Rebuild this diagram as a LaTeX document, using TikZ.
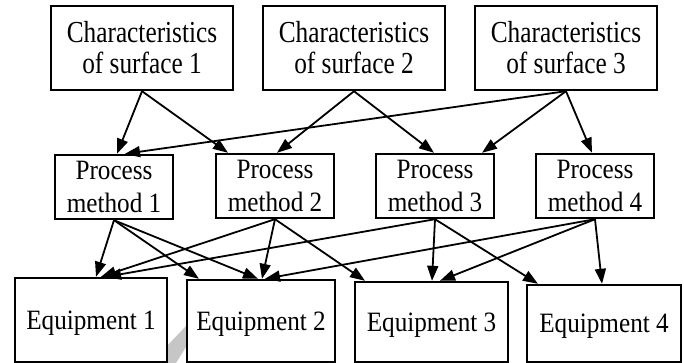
\documentclass[tikz,border=0pt]{standalone}
\usepackage{fontspec}
\setmainfont{Liberation Serif}
\newfontfamily\surffont{Liberation Serif}[FakeStretch=0.83]
\newfontfamily\itemfont{Liberation Serif}[FakeStretch=0.9]
\usetikzlibrary{arrows.meta}
\begin{document}
\begin{tikzpicture}[x=1pt,y=-1pt,
  box/.style={draw, line width=2.4pt, inner sep=0pt, align=center,
    font=\itemfont\fontsize{28}{33}\selectfont},
  surf/.style={box, minimum width=182pt, minimum height=84pt,
    font=\surffont\fontsize{30.5}{31}\selectfont},
  proc/.style={box, minimum width=118pt, minimum height=64pt, text depth=-2pt},
  equip/.style={box, text depth=0pt},
  link/.style={line width=1.8pt, -{Triangle[length=15pt,width=11pt]}}]
\useasboundingbox (0,0) rectangle (684,363);

% faint grey stripe between the first two equipment boxes
\fill[gray!45] (167,346) -- (186,326) -- (186,347) -- (176,363) -- (167,363) -- cycle;

% surface characteristics
\node[surf] (C1) at (142,48)  {Characteristics\\of surface 1};
\node[surf] (C2) at (354,48)  {Characteristics\\of surface 2};
\node[surf] (C3) at (566,48)  {Characteristics\\of surface 3};

% process methods
\node[proc] (P1) at (114,187) {Process\\method 1};
\node[proc] (P2) at (275,186) {Process\\method 2};
\node[proc] (P3) at (435,186) {Process\\method 3};
\node[proc] (P4) at (595,186) {Process\\method 4};

% equipment
\node[equip, minimum width=152pt, minimum height=84pt] (E1) at (91,320)    {Equipment 1};
\node[equip, minimum width=148pt, minimum height=82pt] (E2) at (261,321)   {Equipment 2};
\node[equip, minimum width=153pt, minimum height=80pt] (E3) at (431.5,322) {Equipment 3};
\node[equip, minimum width=154pt, minimum height=77pt] (E4) at (604,323.5) {Equipment 4};

% surfaces -> methods
\draw[link] (C1.south) -- ([xshift=3pt]P1.north);
\draw[link] (C1.south) -- ([xshift=-47pt]P2.north);
\draw[link] (C2.south) -- ([xshift=2pt]P2.north);
\draw[link] (C2.south) -- ([xshift=-1pt]P3.north);
\draw[link] (C3.south) -- ([xshift=11pt]P1.north);
\draw[link] (C3.south) -- ([xshift=47pt]P3.north);
\draw[link] (C3.south) -- ([xshift=-3pt]P4.north);

% methods -> equipment
\draw[link] (P1.south) -- ([xshift=5pt]E1.north);
\draw[link] (P1.south) -- ([xshift=-62pt]E2.north);
\draw[link] (P1.south) -- ([xshift=-3pt]E2.north);
\draw[link] (P2.south) -- ([xshift=10pt]E1.north);
\draw[link] (P2.south) -- ([xshift=1pt]E2.north);
\draw[link] (P2.south) -- ([xshift=-66.5pt]E3.north);
\draw[link] (P3.south) -- ([xshift=15pt]E1.north);
\draw[link] (P3.south) -- ([xshift=0.5pt]E3.north);
\draw[link] (P3.south) -- ([xshift=-66pt]E4.north);
\draw[link] (P4.south) -- ([xshift=4pt]E2.north);
\draw[link] (P4.south) -- ([xshift=8.5pt]E3.north);
\draw[link] (P4.south) -- ([xshift=-2pt]E4.north);
\end{tikzpicture}
\end{document}
